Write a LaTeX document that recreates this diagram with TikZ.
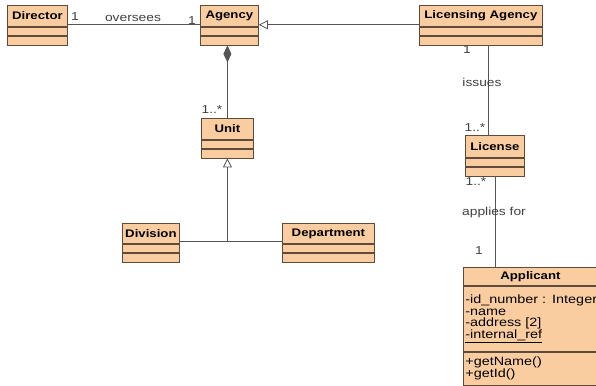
\documentclass[tikz,border=0pt]{standalone}
\usepackage{fontspec}
\setmainfont{Liberation Sans}[FakeStretch=1.2]
\usetikzlibrary{arrows.meta}
\definecolor{clsfill}{RGB}{250,205,160}
\definecolor{clsline}{RGB}{95,75,60}
\definecolor{wirecol}{RGB}{85,85,85}
\begin{document}
\begin{tikzpicture}[x=1pt,y=-1pt,
  cls/.style={draw=clsline,fill=clsfill,anchor=north west,inner sep=0pt,line width=0.8pt,
    font=\fontsize{11}{11}\selectfont\bfseries,text=black},
  cmp/.style={draw=clsline,fill=clsfill,anchor=north west,inner sep=0pt,line width=0.8pt,minimum height=8.5pt},
  lbl/.style={font=\fontsize{11.5}{11.5}\selectfont,text=black!75},
  wire/.style={draw=wirecol,line width=0.8pt},
  gen/.style={wire,-{Triangle[open,length=9pt,width=9pt,fill=white]}},
  comp/.style={wire,-{Diamond[length=17pt,width=8pt,fill=wirecol]}}]
\useasboundingbox (0,0) rectangle (596,385);

\node[cls,minimum width=60pt,minimum height=21pt] (dir) at (7,5) {Director};
\node[cmp,minimum width=60pt] (dir1) at (dir.south west) {};
\node[cmp,minimum width=60pt] (dir2) at (dir1.south west) {};

\node[cls,minimum width=58pt,minimum height=21pt] (agy) at (200,5) {Agency};
\node[cmp,minimum width=58pt] (agy1) at (agy.south west) {};
\node[cmp,minimum width=58pt] (agy2) at (agy1.south west) {};

\node[cls,minimum width=123pt,minimum height=21pt] (lic) at (419,5) {Licensing Agency};
\node[cmp,minimum width=123pt] (lic1) at (lic.south west) {};
\node[cmp,minimum width=123pt] (lic2) at (lic1.south west) {};

\node[cls,minimum width=52pt,minimum height=21pt] (unit) at (201,118) {Unit};
\node[cmp,minimum width=52pt] (unit1) at (unit.south west) {};
\node[cmp,minimum width=52pt] (unit2) at (unit1.south west) {};

\node[cls,minimum width=57pt,minimum height=20pt] (div) at (122,223) {Division};
\node[cmp,minimum width=57pt] (div1) at (div.south west) {};
\node[cmp,minimum width=57pt] (div2) at (div1.south west) {};

\node[cls,minimum width=92pt,minimum height=20pt] (dep) at (282,223) {Department};
\node[cmp,minimum width=92pt] (dep1) at (dep.south west) {};
\node[cmp,minimum width=92pt] (dep2) at (dep1.south west) {};

\node[cls,minimum width=59pt,minimum height=22pt] (lcs) at (465,135) {License};
\node[cmp,minimum width=59pt] (lcs1) at (lcs.south west) {};
\node[cmp,minimum width=59pt] (lcs2) at (lcs1.south west) {};

\node[cls,minimum width=134pt,minimum height=18pt] (app) at (463,267) {Applicant};
\node[cmp,text width=130pt,align=left,inner xsep=2pt,minimum height=65pt,
  font=\fontsize{12}{11.7}\selectfont] (appattr) at (app.south west)
  {\mbox{-id\_number : Integer}\\-name\\-address [2]\\\underline{-internal\_ref}};
\node[cmp,text width=130pt,align=left,inner xsep=2pt,minimum height=33pt,
  font=\fontsize{12}{10.5}\selectfont] (appops) at (appattr.south west)
  {+getName()\\+getId()};

\draw[wire] ([yshift=2pt]dir.south east) -- ([yshift=2pt]agy.south west);
\node[lbl] (m1) at (75,17) {1};
\node[lbl] (over) at (133,18) {oversees};
\node[lbl] (m2) at (192,21) {1};

\draw[gen] ([yshift=2pt]lic.south west) -- ([yshift=2pt]agy.south east);

\draw[comp] (unit.north) -- (unit.north |- agy2.south);
\node[lbl] (m3) at (212,110) {1..*};

\coordinate (forkline) at (0,241);
\coordinate (fork) at (unit2.south |- forkline);
\draw[wire] (fork -| div.east) -- (fork -| dep.west);
\draw[gen] (fork) -- (unit2.south);

\draw[wire] ([xshift=-7pt]lcs.north) -- ([xshift=-7pt]lcs.north |- lic2.south);
\node[lbl] (m4) at (467,50) {1};
\node[lbl] (iss) at (482,82) {issues};
\node[lbl] (m5) at (475,128) {1..*};

\draw[wire] (lcs2.south) -- (lcs2.south |- app.north);
\node[lbl] (m6) at (476,182) {1..*};
\node[lbl] (apl) at (494,213) {applies for};
\node[lbl] (m7) at (479,251) {1};
\end{tikzpicture}
\end{document}
